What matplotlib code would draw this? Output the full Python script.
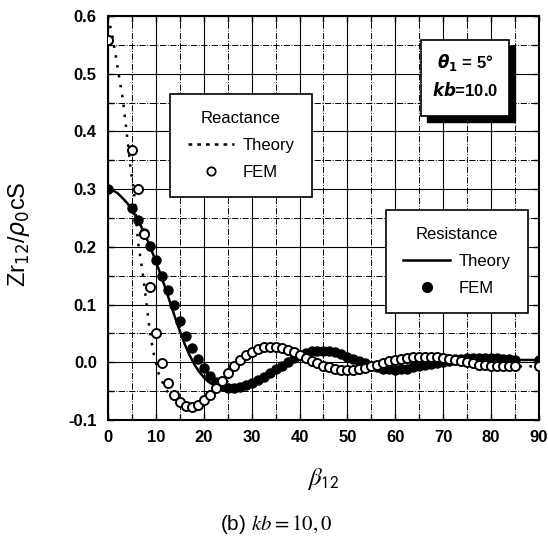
import numpy as np
import matplotlib
matplotlib.use("Agg")
import matplotlib.pyplot as plt
from matplotlib.lines import Line2D
from matplotlib.patches import Rectangle

plt.rcParams['font.family'] = ['Liberation Sans', 'DejaVu Sans']

#FEM sample angles (deg)
beta_fem = [0, 5, 6.25, 7.5, 8.75, 10, 11.25, 12.5, 13.75, 15, 16.25, 17.5, 18.75,
            20, 21.25, 22.5, 23.75, 25, 26.25, 27.5, 28.75, 30, 31.25, 32.5, 33.75,
            35, 36.25, 37.5, 38.75, 40, 41.25, 42.5, 43.75, 45, 46.25, 47.5, 48.75,
            50, 51.25, 52.5, 53.75, 55, 56.25, 57.5, 58.75, 60, 61.25, 62.5, 63.75,
            65, 66.25, 67.5, 68.75, 70, 71.25, 72.5, 73.75, 75, 76.25, 77.5, 78.75,
            80, 81.25, 82.5, 83.75, 85, 90]

#Resistance FEM
res_fem = [0.300, 0.267, 0.247, 0.224, 0.202, 0.178, 0.150, 0.126, 0.100, 0.072, 0.046,
           0.024, 0.006, -0.010, -0.024, -0.034, -0.041, -0.045, -0.045, -0.043, -0.040,
           -0.036, -0.031, -0.025, -0.019, -0.012, -0.006, 0.001, 0.007, 0.012, 0.016,
           0.019, 0.020, 0.020, 0.019, 0.017, 0.014, 0.010, 0.006, 0.002, -0.002, -0.006,
           -0.009, -0.011, -0.012, -0.013, -0.012, -0.011, -0.009, -0.007, -0.005, -0.003,
           -0.001, 0.001, 0.003, 0.005, 0.006, 0.007, 0.008, 0.008, 0.008, 0.008, 0.007,
           0.006, 0.005, 0.004, 0.004]

#Reactance FEM
rea_fem = [0.558, 0.368, 0.300, 0.222, 0.130, 0.050, -0.002, -0.036, -0.056, -0.068,
           -0.076, -0.078, -0.074, -0.066, -0.056, -0.045, -0.032, -0.019, -0.006, 0.004,
           0.012, 0.018, 0.023, 0.026, 0.027, 0.027, 0.025, 0.022, 0.018, 0.013, 0.008,
           0.003, -0.002, -0.006, -0.009, -0.012, -0.013, -0.014, -0.013, -0.012, -0.010,
           -0.007, -0.004, -0.001, 0.002, 0.004, 0.006, 0.008, 0.009, 0.010, 0.010, 0.010,
           0.009, 0.008, 0.006, 0.004, 0.002, 0.000, -0.002, -0.004, -0.005, -0.006,
           -0.007, -0.007, -0.007, -0.007, -0.007]

#Resistance theory
beta_res_th = [0, 1, 2, 3, 4, 5, 6, 7, 8, 9, 10, 11, 12, 13, 14, 15, 16, 17, 18, 19, 20,
               21, 22, 23, 24, 25, 27.5, 30, 32.5, 35, 37.5, 40, 42.5, 45, 47.5, 50, 52.5,
               55, 57.5, 60, 62.5, 65, 67.5, 70, 72.5, 75, 77.5, 80, 82.5, 85, 87.5, 90]
res_th = [0.300, 0.298, 0.293, 0.285, 0.276, 0.264, 0.250, 0.234, 0.216, 0.196, 0.175,
          0.152, 0.128, 0.103, 0.078, 0.054, 0.032, 0.013, -0.003, -0.016, -0.026, -0.034,
          -0.039, -0.042, -0.044, -0.045, -0.043, -0.036, -0.025, -0.012, 0.001, 0.012,
          0.019, 0.020, 0.017, 0.010, 0.002, -0.006, -0.011, -0.013, -0.011, -0.007,
          -0.003, 0.001, 0.005, 0.007, 0.008, 0.008, 0.006, 0.004, 0.004, 0.004]

#Reactance theory
beta_rea_th = [0, 0.8, 1.5, 2.3, 3.1, 4.0, 4.8, 5.4, 6.3, 7.4, 8.6, 9.4, 10.6, 12, 13.5,
               15, 16.5, 18, 20, 22.5, 25, 27.5, 30, 32.5, 35, 37.5, 40, 42.5, 45, 47.5,
               50, 52.5, 55, 57.5, 60, 62.5, 65, 67.5, 70, 72.5, 75, 77.5, 80, 82.5, 85,
               87.5, 90]
rea_th = [0.600, 0.570, 0.538, 0.496, 0.456, 0.392, 0.330, 0.300, 0.207, 0.146, 0.063,
          0.020, -0.020, -0.046, -0.063, -0.073, -0.078, -0.077, -0.068, -0.047, -0.021,
          0.003, 0.018, 0.026, 0.027, 0.022, 0.013, 0.003, -0.006, -0.012, -0.014,
          -0.012, -0.007, -0.001, 0.004, 0.008, 0.010, 0.010, 0.008, 0.004, 0.000,
          -0.004, -0.006, -0.007, -0.007, -0.007, -0.007]

fig = plt.figure(figsize=(5.48, 5.39), dpi=100)
ax = fig.add_axes([0.197, 0.2208, 0.7866, 0.7495])

#Grid
ax.set_xlim(0, 90)
ax.set_ylim(-0.1, 0.6)
ax.set_xticks(np.arange(0, 91, 10))
ax.set_xticks(np.arange(5, 90, 10), minor=True)
ax.set_yticks(np.arange(-0.1, 0.61, 0.1))
ax.set_yticks(np.arange(-0.05, 0.6, 0.1), minor=True)
ax.grid(which='major', color='black', linewidth=0.8, linestyle='-')
ax.grid(which='minor', color='black', linewidth=0.7, linestyle='-.')
ax.set_axisbelow(True)

#Curves
ax.plot(beta_res_th, res_th, color='black', linewidth=1.8, zorder=3)
ax.plot(beta_rea_th, rea_th, color='black', linewidth=1.8, linestyle=(0, (1, 3)), zorder=3)
ax.plot(beta_fem, res_fem, linestyle='none', marker='o', markersize=6.5,
        markerfacecolor='black', markeredgecolor='black', zorder=4)
ax.plot(beta_fem, rea_fem, linestyle='none', marker='o', markersize=6.5,
        markerfacecolor='white', markeredgecolor='black', markeredgewidth=1.4, zorder=5)

#Ticks
ax.tick_params(which='both', direction='in', top=True, right=True, length=4, width=1)
ax.set_xticklabels([str(v) for v in range(0, 91, 10)])
ax.set_yticklabels(['%.1f' % v for v in np.arange(-0.1, 0.61, 0.1)])
for lab in ax.get_xticklabels() + ax.get_yticklabels():
    lab.set_fontweight('bold')
    lab.set_fontsize(12)
ax.tick_params(axis='x', pad=7)
ax.tick_params(axis='y', pad=8)
for sp in ax.spines.values():
    sp.set_linewidth(1.5)

#Legends
def make_legend(title, handles, loc_xy):
    leg = ax.legend(handles=handles, labels=['Theory', 'FEM'], title=title,
                    loc='upper left', bbox_to_anchor=loc_xy, borderaxespad=0,
                    fancybox=False, edgecolor='black', framealpha=1,
                    fontsize=12, title_fontsize=12, handlelength=2.8,
                    labelspacing=0.7, borderpad=1.05, handletextpad=0.5)
    leg.get_frame().set_linewidth(1.2)
    leg.set_zorder(10)
    return leg

h_rea = [Line2D([], [], color='black', linewidth=1.8, linestyle=(0, (1.5, 2))),
         Line2D([], [], linestyle='none', marker='o', markersize=6,
                markerfacecolor='white', markeredgecolor='black', markeredgewidth=1.3)]
leg1 = make_legend('Reactance', h_rea, (0.144, 0.807))
ax.add_artist(leg1)
h_res = [Line2D([], [], color='black', linewidth=1.8),
         Line2D([], [], linestyle='none', marker='o', markersize=7,
                markerfacecolor='black', markeredgecolor='black')]
leg2 = make_legend('Resistance', h_res, (0.645, 0.520))

#Parameter box with shadow
ax.add_patch(Rectangle((0.740, 0.737), 0.204, 0.189, transform=ax.transAxes,
                       facecolor='black', edgecolor='black', zorder=11))
ax.add_patch(Rectangle((0.726, 0.752), 0.204, 0.189, transform=ax.transAxes,
                       facecolor='white', edgecolor='black', linewidth=1.2, zorder=12))
ax.text(0.828, 0.886, r'$\boldsymbol{\theta}_{\mathbf{1}}$ = 5°', transform=ax.transAxes,
        ha='center', va='center', fontsize=12, fontweight='bold', zorder=13)
ax.text(0.828, 0.817, r'$\boldsymbol{kb}$=10.0', transform=ax.transAxes,
        ha='center', va='center', fontsize=12, fontweight='bold', zorder=13)

#Axis labels and caption
fig.text(19 / 548, 1 - 234 / 539, r'Zr$_{12}$/$\rho_{\mathit{0}}$cS', rotation=90,
         ha='center', va='center', fontsize=17)
fig.text(323 / 548, 1 - 479 / 539, r'$\mathit{\beta}_{\mathsf{12}}$',
         ha='center', va='center', fontsize=18, math_fontfamily='stix')
fig.text(276 / 548, 1 - 525 / 539, r'(b) $\mathit{kb}\mathrm{=10,0}$',
         ha='center', va='center', fontsize=15, math_fontfamily='stix')

plt.savefig('out.png', dpi=100)
